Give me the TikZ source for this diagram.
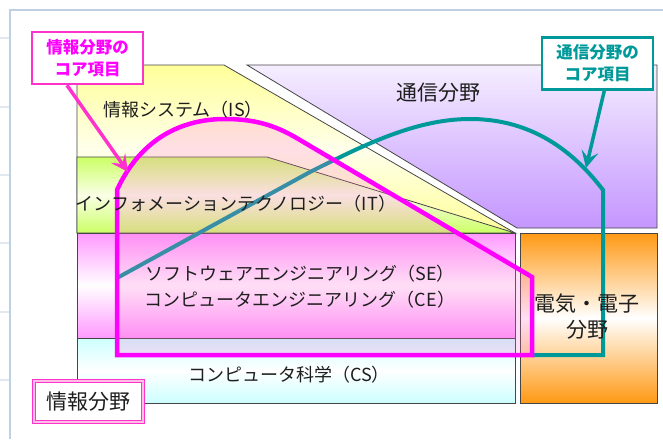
\documentclass[tikz,border=0pt]{standalone}
\usepackage{fontspec}
\setmainfont{Noto Sans CJK JP}
\usetikzlibrary{arrows.meta}
\definecolor{mag}{RGB}{255,0,255}
\definecolor{magbox}{RGB}{255,51,204}
\definecolor{magfill}{RGB}{255,110,210}
\definecolor{tealc}{RGB}{0,153,153}
\definecolor{txt}{RGB}{30,30,30}
\definecolor{edgec}{RGB}{70,70,70}
\definecolor{framec}{RGB}{190,208,225}
\definecolor{framefaint}{RGB}{225,232,240}
\definecolor{yel}{RGB}{255,255,153}
\definecolor{yelw}{RGB}{255,255,235}
\definecolor{grn}{RGB}{204,255,102}
\definecolor{grnw}{RGB}{250,255,230}
\definecolor{pnk}{RGB}{255,153,255}
\definecolor{cyn}{RGB}{204,255,255}
\definecolor{org}{RGB}{255,153,20}
\definecolor{purt}{RGB}{245,238,255}
\definecolor{purb}{RGB}{196,150,255}
\definecolor{dblpink}{RGB}{255,190,230}
\tikzset{
  region/.style={draw=edgec, line width=0.8pt},
  lbl/.style={text=txt, inner sep=0pt, font=\fontsize{18}{22}\selectfont},
  biglbl/.style={text=txt, inner sep=0pt, font=\fontsize{21}{26}\selectfont, align=center},
  callout/.style={fill=white, line width=2.5pt, minimum width=111pt, minimum height=52pt, inner sep=0pt, align=center, font=\bfseries\fontsize{16.5}{22}\selectfont},
  calloutarrow/.style={line width=3.5pt, -{Stealth[length=17pt,width=17pt,inset=7pt]}},
}
\begin{document}
\begin{tikzpicture}[x=1pt,y=-1pt]
\useasboundingbox (0,0) rectangle (663,439);
\fill[white] (0,0) rectangle (663,439);
% frame
\draw[framec, line width=1.5pt] (10,439) -- (10,10) -- (663,10);
\foreach \yy in {38,107,175,243,312,380}{\draw[framefaint, line width=1.5pt] (0,\yy) -- (9,\yy);}
% regions
\shade[region, top color=purt, bottom color=purb] (247,65) -- (657,65) -- (657,228) -- (517,228) -- cycle;
\shade[region, top color=yel, bottom color=yel, middle color=yelw] (77,65) -- (224,65) -- (515,233) -- (77,233) -- cycle;
\shade[region, top color=grn, bottom color=grn, middle color=grnw] (77,157) -- (267,157) -- (515,233) -- (77,233) -- cycle;
\shade[region, top color=pnk, bottom color=pnk, middle color=white] (77,233) rectangle (515,338);
\shade[region, top color=cyn, bottom color=cyn, middle color=white] (77,338) rectangle (515,403);
\shade[region, top color=org, bottom color=org, middle color=white] (520,233) rectangle (657,403);
% teal core
\draw[tealc, line width=4pt, line join=miter] (117,278) -- (310,172) .. controls (362,146) and (415,119) .. (470,119) .. controls (520,119) and (565,140) .. (603,190) -- (603,355) -- (532,355);
% magenta core
\draw[mag, line width=4.5pt, fill=magfill, fill opacity=0.22, line join=miter] (117,355) -- (117,190) .. controls (140,140) and (180,119) .. (225,119) .. controls (260,119) and (280,128) .. (300,140) -- (532,277) -- (532,355) -- cycle;
% labels
\node[lbl] (is) at (183,110) {情報システム（IS）};
\node[biglbl] (tsushin) at (438,93) {通信分野};
\node[lbl] (it) at (236,204) {インフォメーションテクノロジー（IT）};
\node[lbl] (se) at (300,274) {ソフトウェアエンジニアリング（SE）};
\node[lbl] (ce) at (300,300) {コンピュータエンジニアリング（CE）};
\node[lbl] (cs) at (289,375) {コンピュータ科学（CS）};
\node[biglbl] (denki) at (587,317) {電気・電子\\分野};
% info field box
\node[draw=magbox, double=dblpink, double distance=2pt, line width=1pt, fill=white, minimum width=109pt, minimum height=41pt, inner sep=0pt, text=txt, font=\fontsize{21}{26}\selectfont] (joho) at (88.5,401.5) {情報分野};
% callouts
\node[callout, draw=magbox, text=mag] (magcall) at (87.5,58) {情報分野の\\コア項目};
\coordinate (magtip) at (128,172);
\draw[calloutarrow, magbox] (magcall.233) -- (magtip);
\node[callout, draw=tealc, text=tealc] (tealcall) at (597.5,63.5) {通信分野の\\コア項目};
\coordinate (tealtip) at (586,168);
\draw[calloutarrow, tealc] (tealcall.284) -- (tealtip);
\end{tikzpicture}
\end{document}
